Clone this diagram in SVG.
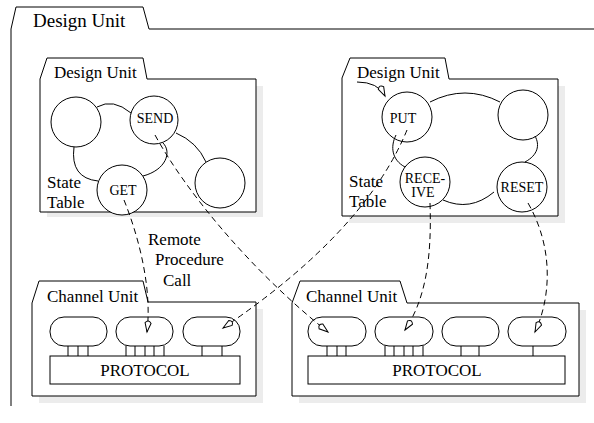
<svg xmlns="http://www.w3.org/2000/svg" width="594" height="423" viewBox="0 0 594 423">
<defs>
<style>
.ln{fill:none;stroke:#000;stroke-width:1}
.box{fill:#fff;stroke:#000;stroke-width:1}
.sh{fill:#ececec;stroke:none}
.st{fill:#fff;stroke:#000;stroke-width:1}
.dash{fill:none;stroke:#000;stroke-width:1;stroke-dasharray:6,4}
text{font-family:'Liberation Serif','DejaVu Serif','Times New Roman',serif;fill:#000}
.big{font-size:19px}
.lab{font-size:17px}
.sm{font-size:14px}
</style>
<marker id="nib" markerUnits="userSpaceOnUse" markerWidth="18" markerHeight="10" viewBox="-15 -5 18 10" refX="0" refY="0" orient="auto">
<path d="M0,0 L-9,-3 Q-13,0 -9,3 Z" fill="#fff" stroke="#000" stroke-width="1"/>
</marker>
</defs>
<rect width="594" height="423" fill="#fff"/>

<g font-family="Liberation Serif, DejaVu Serif, serif">
<g id="outer">
<path class="ln" d="M11,406 V29 L16,7 H143 L149,29 H594"/>
<text class="big" x="33" y="27">Design Unit</text>
</g>

<g id="du-left">
<rect class="sh" x="47" y="86" width="216" height="131"/>
<path class="box" d="M40,212 V79 L47,58 H143 L147,79 H256 V212 Z"/>
<text class="lab" x="54" y="78">Design Unit</text>
<text class="lab" x="47" y="188">State</text>
<text class="lab" x="47" y="208">Table</text>
</g>

<g id="du-right">
<rect class="sh" x="349" y="86" width="216" height="137"/>
<path class="box" d="M342,216 V78 L350,58 H445 L449,79 H558 V216 Z"/>
<text class="lab" x="357" y="78">Design Unit</text>
<text class="lab" x="349" y="187">State</text>
<text class="lab" x="349" y="207">Table</text>
</g>

<g id="ch-left">
<rect class="sh" x="39" y="309" width="224" height="94"/>
<path class="box" d="M32,396 V303 L39,281 H143 L148,302 H256 V396 Z"/>
<text class="lab" x="47" y="302">Channel Unit</text>
<rect class="box" x="50" y="317" width="57" height="29" rx="14"/>
<rect class="box" x="116" y="317" width="57" height="29" rx="14"/>
<rect class="box" x="183" y="317" width="57" height="29" rx="14"/>
<path class="ln" d="M68,346V356M78,346V356M88,346V356M126,346V356M135,346V356M145,346V356M154,346V356M164,346V356M202,346V356M222,346V356"/>
<rect class="box" x="50" y="356" width="190" height="28"/>
<text class="lab" x="145" y="376" text-anchor="middle">PROTOCOL</text>
</g>

<g id="ch-right">
<rect class="sh" x="299" y="310" width="287" height="93"/>
<path class="box" d="M292,396 V303 L300,281 H400 L407,303 H579 V396 Z"/>
<text class="lab" x="306" y="302">Channel Unit</text>
<rect class="box" x="308" y="317" width="58" height="29" rx="14"/>
<rect class="box" x="375" y="317" width="58" height="29" rx="14"/>
<rect class="box" x="442" y="317" width="57" height="29" rx="14"/>
<rect class="box" x="508" y="317" width="58" height="29" rx="14"/>
<path class="ln" d="M327,346V356M337,346V356M346,346V356M385,346V356M394,346V356M404,346V356M413,346V356M423,346V356M461,346V356M479,346V356M533,346V356"/>
<rect class="box" x="308" y="356" width="257" height="28"/>
<text class="lab" x="437" y="376" text-anchor="middle">PROTOCOL</text>
</g>

<g id="states-left">
<g id="s-a"><circle class="st" cx="76" cy="122" r="25"/></g>
<g id="s-send"><circle class="st" cx="154" cy="120" r="24"/><text class="sm" x="155" y="123" text-anchor="middle">SEND</text></g>
<g id="s-get"><circle class="st" cx="122" cy="190" r="25"/><text class="sm" x="123" y="195" text-anchor="middle">GET</text></g>
<g id="s-r"><circle class="st" cx="220" cy="183" r="25"/></g>
</g>

<g id="states-right">
<g id="s-put"><circle class="st" cx="407" cy="117" r="25"/><text class="sm" x="403" y="123" text-anchor="middle">PUT</text></g>
<g id="s-tr"><circle class="st" cx="523" cy="115" r="25"/></g>
<g id="s-recv"><circle class="st" cx="425" cy="182" r="25"/><text class="sm" x="425" y="183" text-anchor="middle">RECE-</text><text class="sm" x="423" y="197" text-anchor="middle">IVE</text></g>
<g id="s-reset"><circle class="st" cx="522" cy="187" r="25"/><text class="sm" x="522" y="192" text-anchor="middle">RESET</text></g>
</g>

<g id="rpc-label">
<text class="lab" x="148" y="245">Remote</text>
<text class="lab" x="155" y="265">Procedure</text>
<text class="lab" x="163" y="286">Call</text>
</g>
</g>

<g id="connectors">
<path class="ln" d="M97,107 Q113,98 131,113"/>
<path class="ln" d="M74,147 Q70,178 98,181"/>
<path class="ln" d="M163,143 C172,152 166,170 143,176"/>
<path class="ln" d="M176,133 Q197,142 206,162"/>
<path class="ln" d="M430,102 Q465,84 500,102"/>
<path class="ln" d="M396,135 C390,147 392,160 405,167"/>
<path class="ln" d="M535,136 C540,145 538,155 525,162"/>
<path class="ln" d="M443,200 Q470,212 494,192"/>
<path class="ln" d="M357,82 Q378,82 385,96" marker-end="url(#nib)"/>
<path class="dash" d="M124,200 C140,240 152,290 147,332" marker-end="url(#nib)"/>
<path class="dash" d="M155,135 C185,190 250,270 328,332" marker-end="url(#nib)"/>
<path class="dash" d="M407,130 Q365,232 223,328" marker-end="url(#nib)"/>
<path class="dash" d="M430,203 C432,260 425,300 405,330" marker-end="url(#nib)"/>
<path class="dash" d="M528,203 C555,250 550,300 535,332" marker-end="url(#nib)"/>
</g>
</svg>
